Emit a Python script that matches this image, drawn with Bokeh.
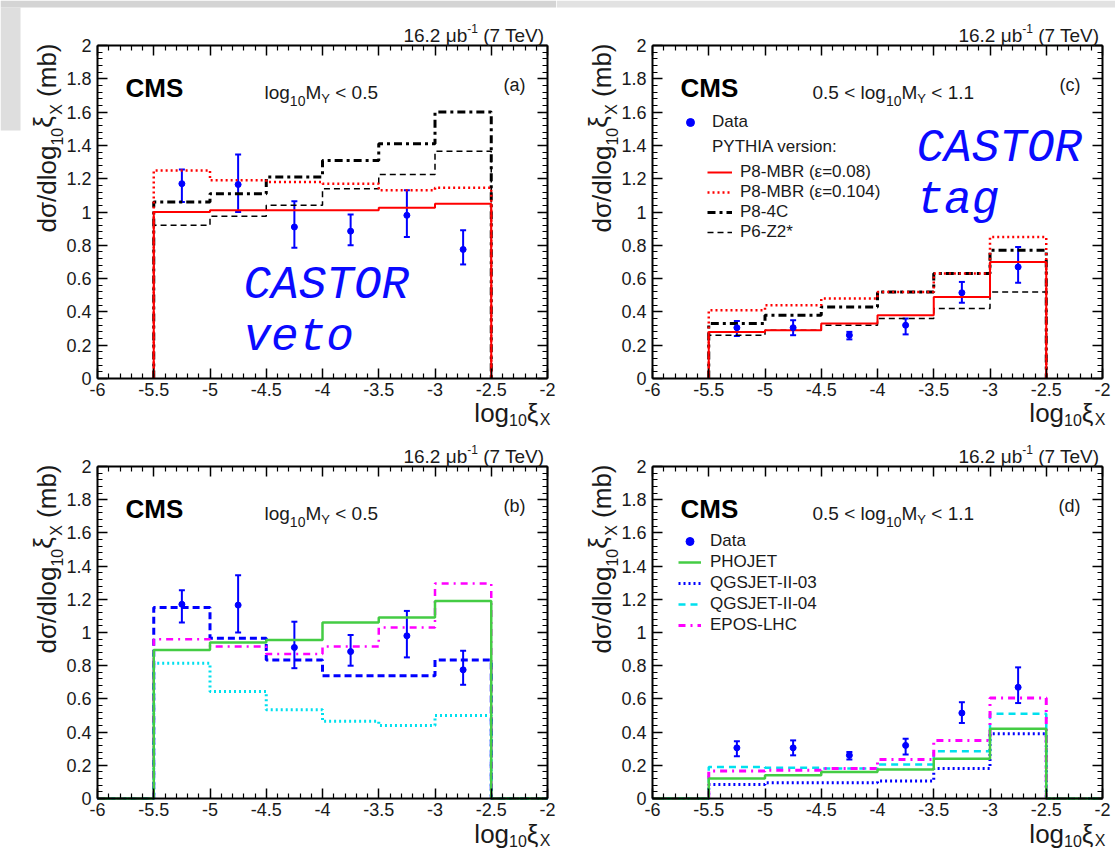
import numpy as np
from bokeh.plotting import figure
from bokeh.models import (LinearAxis, FixedTicker, CustomJSTickFormatter, Label, Whisker,
                          TeeHead, ColumnDataSource, Legend, LegendItem, Range1d, BoxAnnotation)
from bokeh.layouts import row, column
from bokeh.embed import file_html
from bokeh.resources import INLINE

# ---------------- data ----------------
X_TICKS = [-6.0, -5.5, -5.0, -4.5, -4.0, -3.5, -3.0, -2.5, -2.0]
Y_TICKS = [0.0, 0.2, 0.4, 0.6, 0.8, 1.0, 1.2, 1.4, 1.6, 1.8, 2.0]
X_LIM = (-6.0, -2.0)
Y_LIM = (0.0, 2.0)

EDGES = [-5.5, -5.0, -4.5, -4.0, -3.5, -3.0, -2.5]
EDGES_FULL = [-6.0, -5.5, -5.0, -4.5, -4.0, -3.5, -3.0, -2.5, -2.0]
DATA_X = [-5.25, -4.75, -4.25, -3.75, -3.25, -2.75]

# data, log10 MY < 0.5
DATA_LO_Y = [1.17, 1.165, 0.91, 0.885, 0.98, 0.775]
DATA_LO_UP = [1.255, 1.345, 1.065, 0.985, 1.13, 0.89]
DATA_LO_DN = [1.06, 1.0, 0.785, 0.80, 0.85, 0.685]
# data, 0.5 < log10 MY < 1.1
DATA_HI_Y = [0.305, 0.305, 0.26, 0.32, 0.515, 0.67]
DATA_HI_UP = [0.345, 0.35, 0.28, 0.36, 0.58, 0.79]
DATA_HI_DN = [0.255, 0.26, 0.235, 0.265, 0.455, 0.575]

# panel (a)
A_MBR008 = [1.00, 1.01, 1.01, 1.01, 1.025, 1.05]
A_MBR0104 = [1.25, 1.19, 1.18, 1.17, 1.13, 1.145]
A_P84C = [1.06, 1.11, 1.21, 1.31, 1.41, 1.60]
A_P6Z2 = [0.92, 0.975, 1.04, 1.14, 1.225, 1.365]
# panel (c)
C_MBR008 = [0.28, 0.29, 0.33, 0.38, 0.49, 0.70]
C_MBR0104 = [0.41, 0.44, 0.48, 0.52, 0.63, 0.85]
C_P84C = [0.33, 0.38, 0.43, 0.52, 0.63, 0.77]
C_P6Z2 = [0.26, 0.29, 0.32, 0.36, 0.42, 0.52]
# panel (b)  (outer bins are empty)
B_PHOJET = [0.0, 0.895, 0.94, 0.955, 1.06, 1.09, 1.19, 0.0]
B_QGS03 = [0.0, 1.15, 0.965, 0.835, 0.74, 0.74, 0.835, 0.0]
B_QGS04 = [0.0, 0.815, 0.645, 0.535, 0.465, 0.44, 0.50, 0.0]
B_EPOS = [0.0, 0.96, 0.915, 0.87, 0.915, 1.03, 1.295, 0.0]
# panel (d)
D_PHOJET = [0.0, 0.12, 0.14, 0.16, 0.175, 0.24, 0.42, 0.0]
D_QGS03 = [0.0, 0.085, 0.095, 0.095, 0.105, 0.18, 0.39, 0.0]
D_QGS04 = [0.0, 0.19, 0.185, 0.18, 0.205, 0.285, 0.51, 0.0]
D_EPOS = [0.0, 0.165, 0.17, 0.18, 0.235, 0.35, 0.605, 0.0]

RED = "#ff0000"
BLUE = "#0000ff"
GREEN = "#44cc44"
CYAN = "#00e0ee"
MAGENTA = "#ff00ff"
TXT = "#1a1a1a"
FONT = "Liberation Sans"

# approximate Helvetica/Arial advance widths (per 1000 em)
W = {' ': 278, '(': 333, ')': 333, '*': 389, '-': 333, '.': 278, '/': 278, '<': 584,
     '=': 584, 'A': 667, 'B': 667, 'C': 722, 'E': 667, 'G': 778, 'H': 722, 'I': 278,
     'J': 500, 'L': 556, 'M': 833, 'O': 778, 'P': 667, 'Q': 778, 'R': 722, 'S': 667,
     'T': 611, 'V': 667, 'X': 667, 'Y': 667, 'Z': 611, 'a': 556, 'b': 556, 'd': 556,
     'e': 556, 'g': 556, 'i': 222, 'l': 222, 'm': 833, 'n': 556, 'o': 556, 'r': 333,
     's': 500, 't': 278, 'v': 500, 'μ': 576, 'σ': 617, 'ξ': 500, 'ε': 450}
for ch in "0123456789":
    W[ch] = 556

BORDERS = {}


def tw(text, size):
    return sum(W.get(c, 556) for c in text) * size / 1000.0


def rich(p, x, y, dx, dy, pieces, align="left", angle=0.0, color=TXT):
    widths = [tw(t, s) for t, s, _ in pieces]
    c = -sum(widths) if align == "right" else 0.0
    for (t, s, sh), w in zip(pieces, widths):
        lead = len(t) - len(t.lstrip(" "))
        cc = c + tw(" " * lead, s)
        if angle == 0:
            xo, yo = dx + cc, dy + sh
        else:
            xo, yo = dx - sh, dy + cc
        p.add_layout(Label(x=x, y=y, x_offset=xo, y_offset=yo, text=t.strip(" "), angle=angle,
                           text_font=FONT, text_font_size=f"{s}px", text_color=color,
                           text_align="left", text_baseline="alphabetic"))
        c += w


def hist_xy(edges, vals):
    xs, ys = [edges[0]], [0.0]
    for i, v in enumerate(vals):
        xs += [edges[i], edges[i + 1]]
        ys += [v, v]
    xs.append(edges[-1])
    ys.append(0.0)
    return xs, ys


def make_fig(width, height, L, R, T, B):
    """Frame covers the whole canvas; the axes are fixed at the box edges so that
    texts in the margins are not clipped."""
    fw = width - L - R
    fh = height - T - B
    sx = (X_LIM[1] - X_LIM[0]) / fw
    sy = (Y_LIM[1] - Y_LIM[0]) / fh
    p = figure(width=width, height=height,
               x_range=Range1d(X_LIM[0] - L * sx, X_LIM[1] + R * sx),
               y_range=Range1d(Y_LIM[0] - B * sy, Y_LIM[1] + T * sy),
               output_backend="svg", toolbar_location=None, min_border=0)
    p.grid.visible = False
    p.outline_line_color = None
    p.background_fill_color = "white"
    p.border_fill_color = "white"
    xminor = sorted(set(np.round(np.arange(-6.0, -1.999, 0.1), 2)) - set(X_TICKS))
    yminor = sorted(set(np.round(np.arange(0.0, 2.0001, 0.04), 2)) - set(Y_TICKS))
    fmt = CustomJSTickFormatter(code="return String(Math.round(tick*10)/10);")
    bottom = p.below[0]
    left = p.left[0]
    top = LinearAxis()
    right = LinearAxis()
    p.add_layout(top, "above")
    p.add_layout(right, "right")
    specs = [(bottom, "x", True, Y_LIM[0]), (left, "y", True, X_LIM[0]),
             (top, "x", False, Y_LIM[1]), (right, "y", False, X_LIM[1])]
    for ax, dim, lab, loc in specs:
        if dim == "x":
            ax.ticker = FixedTicker(ticks=X_TICKS, minor_ticks=[float(v) for v in xminor])
            ax.bounds = X_LIM
        else:
            ax.ticker = FixedTicker(ticks=Y_TICKS, minor_ticks=[float(v) for v in yminor])
            ax.bounds = Y_LIM
        ax.fixed_location = loc
        ax.formatter = fmt
        ax.axis_line_width = 2
        ax.axis_line_color = "black"
        ax.major_tick_in = 10
        ax.major_tick_out = 0
        ax.minor_tick_in = 5
        ax.minor_tick_out = 0
        ax.major_tick_line_width = 1.5
        ax.minor_tick_line_width = 1.2
        ax.major_tick_line_color = "black"
        ax.minor_tick_line_color = "black"
        if lab:
            ax.major_label_text_font = FONT
            ax.major_label_text_font_size = "18px"
            ax.major_label_text_color = TXT
            ax.major_label_standoff = 4 if dim == "x" else 6
        else:
            ax.major_label_text_font_size = "0px"
            ax.major_label_text_color = None
            ax.major_label_standoff = 0
    BORDERS[id(p)] = (L, B)
    return p


def decorate(p, tag, cond, xlab_dy=-35):
    p.add_layout(Label(x=-6, y=2, x_offset=28, y_offset=-42, text="CMS", text_font=FONT,
                       text_font_size="26px", text_font_style="bold", text_color="black",
                       text_baseline="alphabetic"))
    p.add_layout(Label(x=-2, y=2, x_offset=-22, y_offset=-39, text=tag, text_font=FONT,
                       text_font_size="18px", text_color=TXT, text_align="right",
                       text_baseline="alphabetic"))
    if cond == "lo":
        rich(p, -6, 2, 167, -47, [("log", 19, 0), ("10", 14, -8), ("M", 19, 0), ("Y", 13, -6),
                                  (" < 0.5", 19, 0)])
    else:
        rich(p, -6, 2, 160, -47, [("0.5 < ", 19, 0), ("log", 19, 0), ("10", 14, -8), ("M", 19, 0),
                                  ("Y", 13, -6), (" < 1.1", 19, 0)])
    rich(p, -2, 2, -1, 10, [("16.2 μb", 19, 0), ("-1", 12, 7), (" (7 TeV)", 19, 0)], align="right")
    rich(p, -2, 0, 3, xlab_dy, [("log", 26, 0), ("10", 16, -7), ("ξ", 26, 0), ("X", 16, -7)],
         align="right")
    rich(p, -6, 2, -51, 2, [("dσ/dlog", 26, 0), ("10", 16, -10), ("ξ", 26, 4), ("X", 16, -10),
                            (" (mb)", 26, 0)], align="right", angle=np.pi / 2)


def hist(p, edges, vals, color, width, dash="solid"):
    xs, ys = hist_xy(edges, vals)
    return p.line(xs, ys, line_color=color, line_width=width, line_dash=dash)


def data_points(p, y, up, dn):
    src = ColumnDataSource(dict(x=DATA_X, y=y, up=up, dn=dn))
    p.add_layout(Whisker(source=src, base="x", upper="up", lower="dn", dimension="height",
                         line_color=BLUE, line_width=2,
                         upper_head=TeeHead(size=6, line_color=BLUE, line_width=2),
                         lower_head=TeeHead(size=6, line_color=BLUE, line_width=2)))
    return p.scatter("x", "y", source=src, marker="circle", size=6, color=BLUE)


def castor(p, dx, dy, words):
    for i, w in enumerate(words):
        p.add_layout(Label(x=-6, y=2, x_offset=dx, y_offset=dy - 52 * i, text=w,
                           text_font="Liberation Mono", text_font_style="italic",
                           text_font_size="46px", text_color="#0a0aff",
                           text_baseline="alphabetic"))


def legend(p, items, loc, gw, standoff, spacing):
    L, B = BORDERS[id(p)]
    return Legend(items=items, location=(loc[0] + L, loc[1] + B), glyph_width=gw,
                  glyph_height=20, label_standoff=standoff, spacing=spacing, padding=0,
                  margin=0, border_line_color=None, background_fill_alpha=0,
                  label_text_font=FONT, label_text_font_size="17px", label_text_color=TXT,
                  label_height=20)


# ---------------- panel (a) ----------------
pa = make_fig(556, 430, 97, 9, 45, 52)
# light grey slide edge visible in the top-left corner of the reference
pa.add_layout(BoxAnnotation(left=pa.x_range.start, right=pa.x_range.end,
                            top=pa.y_range.end, bottom=pa.y_range.end - 7 * 2 / 333,
                            fill_color="#d4d4d4", fill_alpha=1, line_color=None))
pa.add_layout(BoxAnnotation(left=pa.x_range.start, right=pa.x_range.start + 20 * 4 / 450,
                            top=pa.y_range.end - 7 * 2 / 333, bottom=pa.y_range.end - 130 * 2 / 333,
                            fill_color="#dedede", fill_alpha=1, line_color=None))
hist(pa, EDGES, A_P6Z2, "black", 1.5, "6 4")
hist(pa, EDGES, A_P84C, "black", 3, "8 4 3 4")
hist(pa, EDGES, A_MBR0104, RED, 2.5, "2 3")
hist(pa, EDGES, A_MBR008, RED, 2)
data_points(pa, DATA_LO_Y, DATA_LO_UP, DATA_LO_DN)
decorate(pa, "(a)", "lo", -34)
castor(pa, 146, -240, ["CASTOR", "veto"])

# ---------------- panel (c) ----------------
pc = make_fig(559, 430, 96, 13, 45, 52)
pc.add_layout(BoxAnnotation(left=pc.x_range.start, right=pc.x_range.end,
                            top=pc.y_range.end, bottom=pc.y_range.end - 7 * 2 / 333,
                            fill_color="#e2e2e2", fill_alpha=1, line_color=None))
r_z2 = hist(pc, EDGES, C_P6Z2, "black", 1.5, "6 4")
r_4c = hist(pc, EDGES, C_P84C, "black", 3, "8 4 3 4")
r_m104 = hist(pc, EDGES, C_MBR0104, RED, 2.5, "2 3")
r_m08 = hist(pc, EDGES, C_MBR008, RED, 2)
r_dc = data_points(pc, DATA_HI_Y, DATA_HI_UP, DATA_HI_DN)
r_blank = pc.line(x=[], y=[], line_alpha=0)
decorate(pc, "(c)", "hi", -34)
castor(pc, 264, -103, ["CASTOR", "tag"])
pc.add_layout(legend(pc, [LegendItem(label="Data", renderers=[r_dc]),
                          LegendItem(label="PYTHIA version:", renderers=[r_blank])],
                     (28, 221), 20, 12, 5))
pc.add_layout(legend(pc, [LegendItem(label="P8-MBR (ε=0.08)", renderers=[r_m08]),
                          LegendItem(label="P8-MBR (ε=0.104)", renderers=[r_m104]),
                          LegendItem(label="P8-4C", renderers=[r_4c]),
                          LegendItem(label="P6-Z2*", renderers=[r_z2])],
                     (55, 136), 25, 8, 0))

# ---------------- panel (b) ----------------
pb = make_fig(556, 422, 97, 9, 36, 54)
hist(pb, EDGES_FULL, B_QGS04, CYAN, 3, "2 3")
hist(pb, EDGES_FULL, B_QGS03, BLUE, 3, "7 4")
hist(pb, EDGES_FULL, B_EPOS, MAGENTA, 2.5, "7 5 2 5")
hist(pb, EDGES_FULL, B_PHOJET, GREEN, 2.5)
data_points(pb, DATA_LO_Y, DATA_LO_UP, DATA_LO_DN)
decorate(pb, "(b)", "lo", -35)

# ---------------- panel (d) ----------------
pd_ = make_fig(559, 422, 96, 13, 36, 54)
r_q03 = hist(pd_, EDGES_FULL, D_QGS03, BLUE, 3, "2 3")
r_q04 = hist(pd_, EDGES_FULL, D_QGS04, CYAN, 2.5, "7 5")
r_ep = hist(pd_, EDGES_FULL, D_EPOS, MAGENTA, 3, "7 5 2 5")
r_ph = hist(pd_, EDGES_FULL, D_PHOJET, GREEN, 2.5)
r_dd = data_points(pd_, DATA_HI_Y, DATA_HI_UP, DATA_HI_DN)
decorate(pd_, "(d)", "hi", -35)
pd_.add_layout(legend(pd_, [LegendItem(label="Data", renderers=[r_dd]),
                            LegendItem(label="PHOJET", renderers=[r_ph]),
                            LegendItem(label="QGSJET-II-03", renderers=[r_q03]),
                            LegendItem(label="QGSJET-II-04", renderers=[r_q04]),
                            LegendItem(label="EPOS-LHC", renderers=[r_ep])],
                      (26, 163), 23, 9, 1))

layout = column(row(pa, pc), row(pb, pd_))
open("out.html", "w").write(file_html(layout, INLINE))
